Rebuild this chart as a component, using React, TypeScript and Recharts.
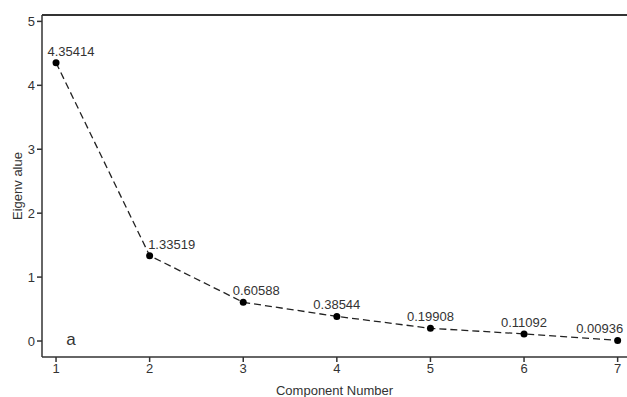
import { Line, LineChart, ReferenceDot, ReferenceLine, XAxis, YAxis } from "recharts";

const components = [1, 2, 3, 4, 5, 6, 7];
const eigenvalues = [4.35414, 1.33519, 0.60588, 0.38544, 0.19908, 0.11092, 0.00936];
const xTicks = [1, 2, 3, 4, 5, 6, 7];
const yTicks = [0, 1, 2, 3, 4, 5];

const data = components.map((c, i) => ({ comp: c, eig: eigenvalues[i] }));

const FONT = "'Liberation Sans', Arial, sans-serif";
const INK = "#333";

// horizontal nudges so labels sit like the original
const labelShift = [15, 22, 13, 0, 0, 0, -18];

function PointLabel(props: any) {
  const { x, y, value, index } = props;
  return (
    <text
      x={x + labelShift[index]}
      y={y - 7}
      textAnchor="middle"
      fontSize={13}
      fontFamily={FONT}
      fill={INK}
    >
      {String(value)}
    </text>
  );
}

export default function App() {
  return (
    <div style={{ position: "absolute", left: 0, top: 0, width: 627, height: 397, background: "#fff" }}>
      <LineChart
        width={627}
        height={397}
        data={data}
        margin={{ top: 15, right: 0, bottom: 0, left: 0 }}
      >
        <XAxis
          dataKey="comp"
          type="number"
          domain={[0.85, 7.1]}
          ticks={xTicks}
          allowDataOverflow
          height={40}
          stroke={INK}
          strokeWidth={1.5}
          tickSize={5}
          tick={{ fontSize: 13, fill: INK, fontFamily: FONT }}
          label={{
            value: "Component Number",
            position: "insideBottom",
            offset: 2,
            fontSize: 13,
            fill: INK,
            fontFamily: FONT,
          }}
        />
        <YAxis
          type="number"
          domain={[-0.25, 5.1]}
          ticks={yTicks}
          allowDataOverflow
          width={42}
          stroke={INK}
          strokeWidth={1.5}
          tickSize={5}
          tick={{ fontSize: 13, fill: INK, fontFamily: FONT }}
          label={{
            value: "Eigenv alue",
            angle: -90,
            position: "center",
            dx: -4,
            fontSize: 13,
            fill: INK,
            fontFamily: FONT,
          }}
        />
        <ReferenceLine y={5.1} stroke={INK} strokeWidth={2} />
        <ReferenceDot
          x={1.16}
          y={0.03}
          r={0}
          fill="none"
          stroke="none"
          label={{ value: "a", position: "center", fontSize: 17, fill: INK, fontFamily: FONT }}
        />
        <Line
          type="linear"
          dataKey="eig"
          stroke="#222"
          strokeWidth={1.3}
          strokeDasharray="7 4"
          dot={{ r: 3.5, fill: "#000", stroke: "#000", strokeWidth: 0 }}
          label={<PointLabel />}
          isAnimationActive={false}
        />
      </LineChart>
    </div>
  );
}
